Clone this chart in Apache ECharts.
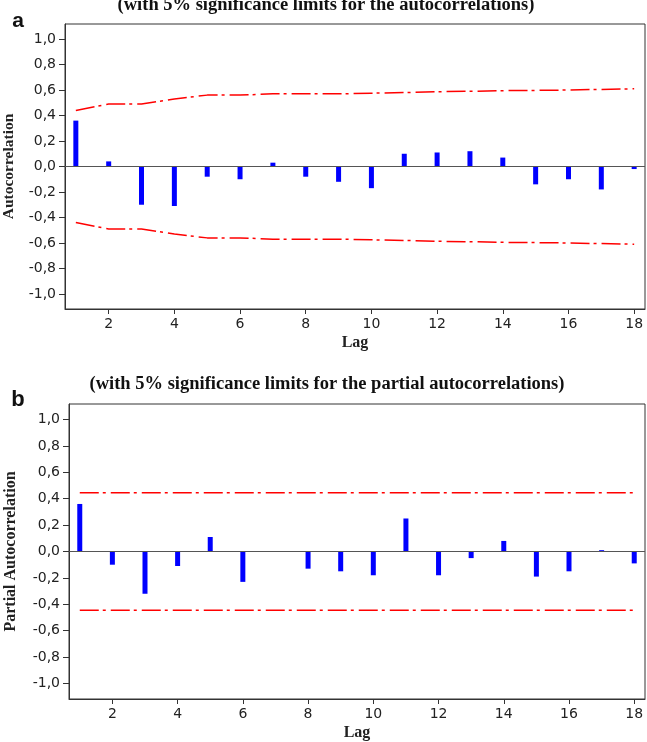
<!DOCTYPE html>
<html>
<head>
<meta charset="utf-8">
<script src="https://cdn.jsdelivr.net/npm/echarts@6/dist/echarts.min.js"></script>
<style>html,body{margin:0;padding:0;background:#fff;}#c{width:647px;height:742px;}</style>
</head>
<body>
<div id="c"></div>
<script>
const lags = [1,2,3,4,5,6,7,8,9,10,11,12,13,14,15,16,17,18];
const acf = [0.36,0.04,-0.30,-0.31,-0.08,-0.10,0.03,-0.08,-0.12,-0.17,0.10,0.11,0.12,0.07,-0.14,-0.10,-0.18,-0.02];
const acfUpper = [0.44,0.49,0.49,0.53,0.56,0.56,0.57,0.57,0.57,0.575,0.58,0.587,0.59,0.595,0.597,0.60,0.605,0.61];
const acfLower = [-0.44,-0.49,-0.49,-0.53,-0.56,-0.56,-0.57,-0.57,-0.57,-0.575,-0.58,-0.587,-0.59,-0.595,-0.597,-0.60,-0.605,-0.61];
const pacf = [0.36,-0.10,-0.32,-0.11,0.11,-0.23,0.0,-0.13,-0.15,-0.18,0.25,-0.18,-0.05,0.08,-0.19,-0.15,0.01,-0.09];
const pacfUpper = [0.444,0.444,0.444,0.444,0.444,0.444,0.444,0.444,0.444,0.444,0.444,0.444,0.444,0.444,0.444,0.444,0.444,0.444];
const pacfLower = [-0.444,-0.444,-0.444,-0.444,-0.444,-0.444,-0.444,-0.444,-0.444,-0.444,-0.444,-0.444,-0.444,-0.444,-0.444,-0.444,-0.444,-0.444];
const yTicks = [-1.0,-0.8,-0.6,-0.4,-0.2,0.0,0.2,0.4,0.6,0.8,1.0];
const xTicks = [2,4,6,8,10,12,14,16,18];

const chart = echarts.init(document.getElementById('c'), null, {renderer:'canvas'});
const pair = arr => lags.map((l,i)=>[l, arr[i]]);
const serif = 'Liberation Serif';
const tickFont = {fontFamily:'DejaVu Sans', fontSize:14, color:'#222'};
const axisCol = '#333';
const dashDot = [19,4,3,5];

function xAxisDef(gi){
  return {
    type:'value', gridIndex:gi, min:0.67, max:18.33,
    name:'Lag', nameLocation:'middle', nameGap:26,
    nameTextStyle:{fontFamily:serif, fontWeight:'bold', fontSize:16, color:'#222'},
    axisLine:{show:true, onZero:false, lineStyle:{color:axisCol, width:1}},
    axisTick:{show:true, length:5, customValues:xTicks, lineStyle:{color:axisCol}},
    axisLabel:Object.assign({customValues:xTicks, margin:8}, tickFont),
    splitLine:{show:false}
  };
}
function yAxisDef(gi, name, gap, lim, fs){
  return {
    type:'value', gridIndex:gi, min:-lim, max:lim,
    name:name, nameLocation:'middle', nameGap:gap, nameRotate:90,
    nameTextStyle:{fontFamily:serif, fontWeight:'bold', fontSize:fs, color:'#222'},
    axisLine:{show:true, onZero:false, lineStyle:{color:axisCol, width:1}},
    axisTick:{show:true, length:6, customValues:yTicks, lineStyle:{color:axisCol}},
    axisLabel:Object.assign({customValues:yTicks, margin:9,
      formatter:v=>v.toFixed(1).replace('.',',')}, tickFont),
    splitLine:{show:false}
  };
}
function barSeries(xi, data){
  return {type:'bar', xAxisIndex:xi, yAxisIndex:xi, data:pair(data), barWidth:5,
    itemStyle:{color:'#0000ff'}, silent:true, z:3,
    markLine:{silent:true, symbol:'none', label:{show:false},
      lineStyle:{color:'#555', type:'solid', width:1.2}, data:[{yAxis:0}]}};
}
function limSeries(xi, data){
  return {type:'line', xAxisIndex:xi, yAxisIndex:xi, data:pair(data), showSymbol:false,
    symbol:'none', lineStyle:{color:'#ff0000', width:1.5, type:dashDot}, silent:true, z:2};
}

chart.setOption({
  animation:false,
  backgroundColor:'#fff',
  grid:[
    {left:65, top:24, width:580, height:285, show:true, borderColor:axisCol, borderWidth:1,
      containLabel:false, outerBoundsMode:'none'},
    {left:69, top:404, width:576, height:295, show:true, borderColor:axisCol, borderWidth:1,
      containLabel:false, outerBoundsMode:'none'}
  ],
  xAxis:[xAxisDef(0), xAxisDef(1)],
  yAxis:[yAxisDef(0,'Autocorrelation',48,1.118,15.5), yAxisDef(1,'Partial Autocorrelation',50,1.117,16)],
  series:[
    barSeries(0, acf), limSeries(0, acfUpper), limSeries(0, acfLower),
    barSeries(1, pacf), limSeries(1, pacfUpper), limSeries(1, pacfLower)
  ],
  graphic:[
    {type:'text', style:{x:326, y:5, text:'(with 5% significance limits for the autocorrelations)',
      font:'bold 18.5px "Liberation Serif"', fill:'#111', align:'center', verticalAlign:'middle'}},
    {type:'text', style:{x:18, y:21, text:'a', font:'bold 21px "Liberation Sans"', fill:'#111', align:'center', verticalAlign:'middle'}},
    {type:'text', style:{x:327, y:384, text:'(with 5% significance limits for the partial autocorrelations)',
      font:'bold 18.5px "Liberation Serif"', fill:'#111', align:'center', verticalAlign:'middle'}},
    {type:'text', style:{x:18, y:400, text:'b', font:'bold 22px "Liberation Sans"', fill:'#111', align:'center', verticalAlign:'middle'}}
  ]
});
</script>
</body>
</html>
